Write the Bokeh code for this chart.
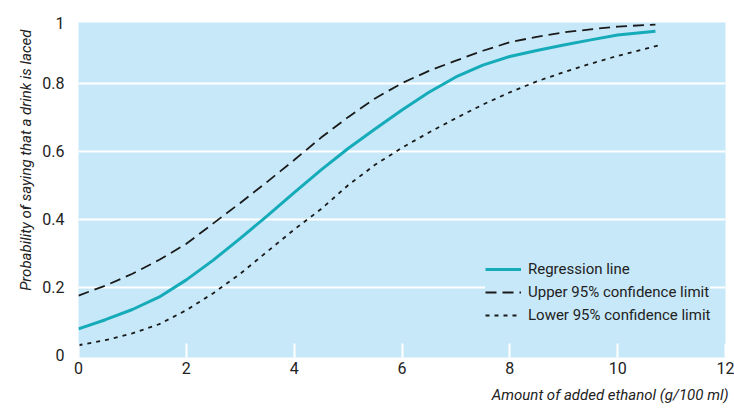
from bokeh.plotting import figure
from bokeh.models import Range1d, FixedTicker, Legend, LegendItem, Title
from bokeh.embed import file_html
from bokeh.resources import INLINE

# ---- data ----
reg_x = [0, 0.5, 1, 1.5, 2, 2.5, 3, 3.5, 4, 4.5, 5, 5.5, 6, 6.5, 7, 7.5, 8, 8.5, 9, 9.5, 10, 10.7]
reg_y = [0.078, 0.105, 0.135, 0.172, 0.222, 0.280, 0.344, 0.410, 0.478, 0.545, 0.608, 0.665,
         0.721, 0.773, 0.818, 0.853, 0.878, 0.896, 0.912, 0.927, 0.941, 0.952]

upper_x = [0, 0.5, 1, 1.5, 2, 2.5, 3, 3.5, 4, 4.5, 5, 5.5, 6, 6.5, 7, 7.5, 8, 8.5, 9, 9.5, 10, 10.7]
upper_y = [0.176, 0.205, 0.240, 0.281, 0.328, 0.388, 0.448, 0.510, 0.574, 0.640, 0.700, 0.755,
           0.800, 0.836, 0.866, 0.895, 0.920, 0.936, 0.949, 0.958, 0.966, 0.972]

lower_x = [0, 0.5, 1, 1.5, 2, 2.5, 3, 3.5, 4, 4.5, 5, 5.5, 6, 6.5, 7, 7.5, 8, 8.5, 9, 9.5, 10, 10.8]
lower_y = [0.030, 0.045, 0.065, 0.092, 0.133, 0.183, 0.240, 0.305, 0.370, 0.430, 0.500, 0.560,
           0.610, 0.655, 0.697, 0.737, 0.773, 0.805, 0.832, 0.857, 0.880, 0.912]

x_ticks = [0, 2, 4, 6, 8, 10, 12]
y_ticks = [0, 0.2, 0.4, 0.6, 0.8]
y_top = 0.978
series_names = ["Regression line", "Upper 95% confidence limit", "Lower 95% confidence limit"]
x_title = "Amount of added ethanol (g/100 ml)"
y_title = "Probability of saying that a drink is laced"

FONT = "Roboto"
BG = "#c6e8f8"
TEAL = "#15abb9"
DARK = "#1a1a1a"
TXT = "#222222"

p = figure(width=734, height=411, output_backend="svg", toolbar_location=None,
           x_range=Range1d(0, 12), y_range=Range1d(-0.006, y_top),
           min_border_left=78, min_border_right=9, min_border_top=22, min_border_bottom=53,
           background_fill_color=BG, border_fill_color="white", title=None)
p.outline_line_color = None

# axes
p.xaxis.ticker = FixedTicker(ticks=x_ticks)
p.yaxis.ticker = FixedTicker(ticks=y_ticks + [y_top])
p.yaxis.major_label_overrides = {y_top: "1", 0: "0", 0.2: "0.2", 0.4: "0.4", 0.6: "0.6", 0.8: "0.8"}
p.xaxis.major_label_overrides = {t: str(t) for t in x_ticks}
for ax in (p.xaxis, p.yaxis):
    ax.axis_line_color = None
    ax.minor_tick_line_color = None
    ax.major_label_text_font = FONT
    ax.major_label_text_font_size = "16px"
    ax.major_label_text_color = TXT
p.yaxis.major_tick_line_color = None
p.yaxis.major_label_standoff = 8
p.xaxis.major_tick_in = 14
p.xaxis.major_tick_out = 0
p.xaxis.major_tick_line_color = "white"
p.xaxis.major_tick_line_width = 2
p.xaxis.major_label_standoff = 4

# grid
p.xgrid.grid_line_color = None
p.ygrid.ticker = FixedTicker(ticks=[0.2, 0.4, 0.6, 0.8])
p.ygrid.grid_line_color = "white"
p.ygrid.grid_line_width = 2

r_reg = p.line(reg_x, reg_y, line_color=TEAL, line_width=3)
r_up = p.line(upper_x, upper_y, line_color=DARK, line_width=1.8, line_dash="11 6")
r_lo = p.line(lower_x, lower_y, line_color=DARK, line_width=1.8, line_dash="4 5")

legend = Legend(items=[LegendItem(label=series_names[0], renderers=[r_reg]),
                       LegendItem(label=series_names[1], renderers=[r_up]),
                       LegendItem(label=series_names[2], renderers=[r_lo])],
                location=(407, 32), background_fill_color=BG, background_fill_alpha=1,
                border_line_color=None, padding=8, spacing=3, margin=0,
                glyph_width=36, glyph_height=20, label_height=20, label_standoff=7,
                label_text_font=FONT, label_text_font_size="15px", label_text_color=TXT)
p.add_layout(legend, "center")

p.add_layout(Title(text=x_title, align="right", offset=-3, standoff=15, text_font=FONT,
                   text_font_size="15px", text_font_style="italic", text_color=TXT), "below")
p.add_layout(Title(text=y_title, align="right", offset=7, text_font=FONT, text_font_size="15px",
                   text_font_style="italic", text_color=TXT), "left")

open("out.html", "w").write(file_html(p, INLINE))
